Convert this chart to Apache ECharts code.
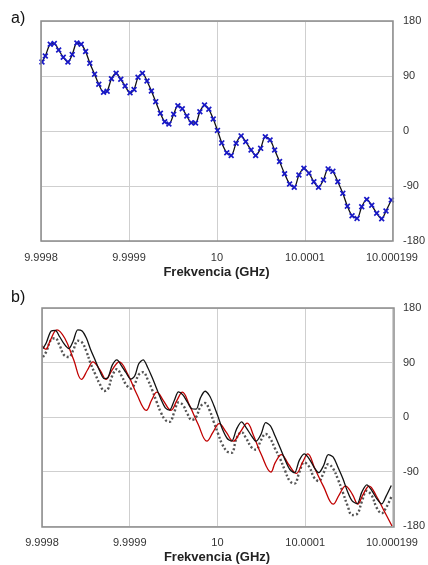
<!DOCTYPE html>
<html>
<head>
<meta charset="utf-8">
<script src="https://cdn.jsdelivr.net/npm/echarts@6/dist/echarts.min.js"></script>
<style>
html,body{margin:0;padding:0;background:#fff;}
#chart{width:428px;height:565px;}
</style>
</head>
<body>
<div id="chart"></div>
<script>
// Frequency offset in kHz above 9.9998 GHz (1 unit = 0.000001 GHz)
const xTickValues = [0, 100, 200, 300, 399];
const xTickLabels = ['9.9998', '9.9999', '10', '10.0001', '10.000199'];
const yTickValues = [-180, -90, 0, 90, 180];

// a) measured phase (also black line in b)
const measX = [1.1,4.9,10.5,15.1,20.1,25.3,30.6,35.5,40.8,45.7,
  50.7,55.5,60.9,65.7,71.1,75.2,80.1,85.4,90.7,95.6,
  101.2,105.8,110.3,115.3,120.5,125.5,130.4,135.7,140.6,145.4,
  150.8,155.6,160.6,165.8,170.8,175.7,180.6,185.9,190.8,195.8,
  200.6,205.5,211.2,216.2,221.8,227.5,232.7,238.8,244,249.7,
  255,260.4,265.6,271.2,276.9,282.6,287.9,293.2,298.9,304.6,
  310.2,315.5,321.1,326.4,331.8,337.4,343.1,348.3,353.6,359.3,
  364.6,370.3,376,381.6,387.3,392.2,398.2];
const measPhase = [113,122.7,142,143,132.5,120.6,113,125,144,142,
  130,111,93,76.4,63.3,65,85.6,94.4,84.6,73.6,
  62.5,68,88,94.4,81.8,65.5,48,29,15.2,11.5,
  27.3,41.4,36.5,24.5,13.6,13,31.6,42.5,35.5,19.6,
  1,-19.5,-35.5,-40,-20,-8,-17.5,-31,-40,-28.4,
  -9.3,-14.7,-31,-50,-70,-86.7,-92,-72,-61,-69,
  -83,-92,-80,-62,-66,-83,-102,-123,-138.6,-143,
  -124,-112,-121.6,-134.7,-143.5,-131,-113];

// b) grey dotted series (same x as measured)
const greyPhase = [99,108,128,130,118,102,99,110,126,123,
  108,88,70,55,43,46,68,79,68,54,
  47,55,70,74,62,45,26,7,-5,-8,
  8,24,20,5,-5,0,17,23,12,-8,
  -27,-45,-57,-59,-35,-25,-35,-50,-54,-38,
  -28,-36,-52,-68,-88,-106,-110,-92,-75,-82,
  -100,-106,-92,-78,-85,-103,-125,-146,-162,-160,
  -140,-122,-130,-150,-159,-150,-132];

// b) red series
const redX = [0,4.5,9,17,26,36,45,52,58,66,
  73,80,88,98,108,119,125,131,138,147,
  154,160,168,178,188,195,202,210,218,226,
  234,241,250,261,266,273,281,290,297,303,
  311,321,332,339,346,354,360,366,373,381,
  390,399];
const redPhase = [118,112,125,144,130,95,62,78,91,78,
  62,78,91,70,38,11,28,41,28,11,
  28,41,20,-12,-40,-25,-11,-25,-40,-25,
  -10,-30,-62,-91,-75,-62,-78,-93,-75,-61,
  -85,-115,-144,-128,-114,-128,-144,-128,-114,-130,
  -155,-180];

const zip = (xs, ys) => xs.map((x, i) => [x, ys[i]]);

const FONT = "'Liberation Sans', Arial, sans-serif";
const G1 = {left: 41, top: 21, width: 352, height: 220};
const G2 = {left: 42, top: 308, width: 352, height: 219};

function xAxisCfg(gi) {
  return {
    type: 'value', gridIndex: gi, min: 0, max: 399, interval: 100,
    axisLine: {show: false}, axisTick: {show: false},
    splitLine: {show: true, lineStyle: {color: '#cfcfcf', width: 1}},
    axisLabel: {
      margin: 11, color: '#333', fontSize: 11, fontFamily: FONT,
      showMinLabel: true, showMaxLabel: true, hideOverlap: false,
      formatter: v => {
        const i = xTickValues.indexOf(Math.round(v));
        return i >= 0 ? xTickLabels[i] : '';
      }
    },
    name: 'Frekvencia (GHz)', nameLocation: 'middle', nameGap: 25,
    nameTextStyle: {fontFamily: FONT, fontSize: 13, fontWeight: 'bold', color: '#222'}
  };
}
function yAxisCfg(gi) {
  return {
    type: 'value', gridIndex: gi, position: 'right', min: -180, max: 180, interval: 90,
    axisLine: {show: false}, axisTick: {show: false},
    splitLine: {show: true, lineStyle: {color: '#cfcfcf', width: 1}},
    axisLabel: {margin: 11, color: '#333', fontSize: 11, fontFamily: FONT,
      showMinLabel: true, showMaxLabel: true}
  };
}

const chart = echarts.init(document.getElementById('chart'), null, {renderer: 'canvas'});
chart.setOption({
  animation: false,
  backgroundColor: '#fff',
  grid: [
    Object.assign({show: false}, G1),
    Object.assign({show: false}, G2)
  ],
  xAxis: [xAxisCfg(0), xAxisCfg(1)],
  yAxis: [yAxisCfg(0), yAxisCfg(1)],
  graphic: [
    {type: 'text', left: 11, top: 11, style: {text: 'a)', font: '16px ' + FONT, fill: '#111'}},
    {type: 'text', left: 11, top: 290, style: {text: 'b)', font: '16px ' + FONT, fill: '#111'}},
    {type: 'rect', z: 50, silent: true, shape: {x: G1.left, y: G1.top, width: G1.width, height: G1.height},
      style: {fill: 'none', stroke: '#8c8c8c', lineWidth: 1.5}},
    {type: 'rect', z: 50, silent: true, shape: {x: G2.left, y: G2.top, width: G2.width, height: G2.height},
      style: {fill: 'none', stroke: '#8c8c8c', lineWidth: 1.5}}
  ],
  series: [
    {
      type: 'line', xAxisIndex: 0, yAxisIndex: 0, data: zip(measX, measPhase),
      smooth: 0.3, lineStyle: {color: '#111', width: 1.3},
      symbol: 'path://M0,2L2,0L5,3L8,0L10,2L7,5L10,8L8,10L5,7L2,10L0,8L3,5Z',
      symbolSize: 6, showSymbol: true, showAllSymbol: true,
      itemStyle: {color: '#1818c8'}, z: 3
    },
    {
      type: 'line', xAxisIndex: 1, yAxisIndex: 1, data: zip(measX, greyPhase),
      smooth: 0.4, symbol: 'none',
      lineStyle: {color: '#555', width: 2.4, type: [2, 2.2], cap: 'butt'}, z: 2
    },
    {
      type: 'line', xAxisIndex: 1, yAxisIndex: 1, data: zip(redX, redPhase),
      smooth: 0.4, symbol: 'none',
      lineStyle: {color: '#c00000', width: 1.3}, z: 3
    },
    {
      type: 'line', xAxisIndex: 1, yAxisIndex: 1, data: zip(measX, measPhase),
      smooth: 0.3, symbol: 'none',
      lineStyle: {color: '#111', width: 1.3}, z: 4
    }
  ]
});
</script>
</body>
</html>
